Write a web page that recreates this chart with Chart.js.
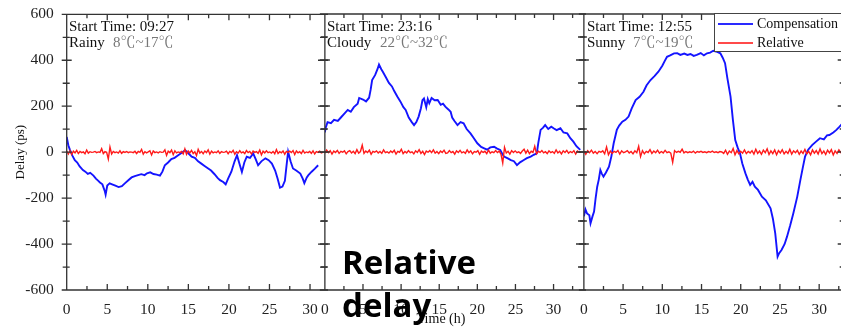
<!DOCTYPE html>
<html><head><meta charset="utf-8">
<script src="https://cdn.jsdelivr.net/npm/chart.js@4.4.1/dist/chart.umd.min.js"></script>
<style>
html,body{margin:0;padding:0;background:#fff;}
body{width:841px;height:328px;overflow:hidden;position:relative;font-family:'Liberation Serif','Noto Serif CJK SC','Noto Sans CJK SC',serif;}
canvas{position:absolute;top:0;}
.ann{position:absolute;font-size:15px;line-height:16px;color:#111;white-space:pre;}
.gray{color:#777;}
#legend{position:absolute;left:714px;top:13px;width:140px;height:39px;border:1.5px solid #444;background:#fff;box-sizing:border-box;}
.lg-line{position:absolute;left:3px;width:35px;height:2px;}
.lg-text{position:absolute;left:42px;font-size:14px;line-height:16px;color:#111;white-space:pre;}
#big{position:absolute;left:342px;top:240px;font-family:'Open Sans','Noto Sans',sans-serif;font-weight:700;font-size:33px;line-height:43px;color:#000;white-space:pre;z-index:5;}
#xtitle{position:absolute;left:411px;width:60px;text-align:center;top:311px;font-size:14px;line-height:16px;color:#111;}
</style></head><body>
<canvas id="c1" width="330" height="328" style="left:0px"></canvas>
<canvas id="c2" width="270" height="328" style="left:318px"></canvas>
<canvas id="c3" width="270" height="328" style="left:577px"></canvas>

<div class="ann" style="left:69px;top:17.6px">Start Time: 09:27</div>
<div class="ann" style="left:69px;top:33.6px">Rainy</div>
<div class="ann gray" style="left:113px;top:33.6px">8℃~17℃</div>
<div class="ann" style="left:327px;top:17.6px">Start Time: 23:16</div>
<div class="ann" style="left:327px;top:33.6px">Cloudy</div>
<div class="ann gray" style="left:380px;top:33.6px">22℃~32℃</div>
<div class="ann" style="left:587px;top:17.6px">Start Time: 12:55</div>
<div class="ann" style="left:587px;top:33.6px">Sunny</div>
<div class="ann gray" style="left:633px;top:33.6px">7℃~19℃</div>

<div id="legend">
  <div class="lg-line" style="top:9px;background:#2a2aff"></div>
  <div class="lg-text" style="top:2px">Compensation</div>
  <div class="lg-line" style="top:28px;background:#ff4a4a"></div>
  <div class="lg-text" style="top:21px">Relative</div>
</div>
<div id="xtitle">Time (h)</div>
<div id="big">Relative
delay</div>

<script>
// ---------- tick values ----------
const xLabelVals = [0, 5, 10, 15, 20, 25, 30];
const xTickMarks = [0, 2.5, 5, 7.5, 10, 12.5, 15, 17.5, 20, 22.5, 25, 27.5, 30, 32.5];
const yLabelVals = [-600, -400, -200, 0, 200, 400, 600];
const yTickMarks = [-600, -500, -400, -300, -200, -100, 0, 100, 200, 300, 400, 500, 600];

// ---------- panel 1 (Rainy) ----------
const p1CompT = [0,0.2,0.4,0.7,1.0,1.3,1.6,2.0,2.3,2.6,2.9,3.3,3.6,3.9,4.1,4.4,4.7,4.8,5.0,5.3,5.6,6.0,6.4,6.8,7.2,7.6,8.0,8.4,8.8,9.2,9.6,9.9,10.3,10.7,11.1,11.5,11.8,12.1,12.5,12.9,13.3,13.7,14.1,14.6,15.0,15.4,15.8,16.2,16.6,17.0,17.4,17.8,18.2,18.6,18.9,19.3,19.6,19.9,20.3,20.7,21.0,21.3,21.6,21.9,22.2,22.6,23.0,23.3,23.6,24.0,24.5,24.9,25.3,25.7,26.0,26.3,26.6,26.9,27.1,27.3,27.6,27.9,28.3,28.8,29.1,29.3,29.6,29.8,30.2,30.6,31.0];
const p1CompV = [66,30,10,-15,-35,-45,-62,-78,-85,-95,-90,-102,-115,-125,-132,-140,-170,-185,-145,-136,-140,-146,-152,-148,-135,-122,-110,-104,-100,-96,-100,-92,-88,-95,-98,-102,-85,-57,-45,-30,-25,-15,-5,8,-5,-20,-25,-40,-50,-60,-70,-80,-95,-112,-122,-130,-140,-115,-85,-40,-13,-50,-86,-45,-20,-25,-6,-30,-57,-40,-27,-35,-50,-80,-115,-155,-150,-125,-60,2,-40,-71,-80,-93,-115,-135,-110,-100,-85,-72,-57];
const p1Rel = [5,-8,6,-10,4,-3,8,-6,3,-2,1,-7,9,-4,2,-1,0,3,-2,1,-1,15,-6,2,-1,-30,22,-8,3,-2,1,-4,6,-5,2,-1,3,-2,1,0,-2,4,-6,3,-1,12,-9,2,-3,1,6,-12,5,-2,1,-3,2,-1,0,10,-14,4,-2,9,-11,6,-3,1,-2,3,-8,14,-10,5,-3,8,-6,2,-15,12,-4,3,-7,5,-2,10,-9,4,-3,1,-2,6,-5,2,-1,0,
  4,-7,3,-2,8,-9,2,-4,6,-3,1,-6,7,-2,3,-8,5,-1,2,-5,9,-12,4,-3,6,-2,1,-4,3,-7,11,-6,2,-3,5,-9,3,-1,4,-2,7,-10,5,-3,2,-6,8,-4,1,-2,3,-5,6,-8,2,-1,4,-3,0];

// ---------- panel 2 (Cloudy) ----------
const p2CompT = [0,0.1,0.35,0.8,1.2,1.7,2.1,2.5,3.0,3.4,3.8,4.3,4.5,5.0,5.4,5.8,6.0,6.2,6.6,6.9,7.1,7.4,7.6,8.0,8.4,8.8,9.1,9.5,9.9,10.3,10.6,11.0,11.4,11.7,12.0,12.3,12.6,12.8,13.0,13.3,13.5,13.7,14.0,14.4,14.8,15.2,15.5,15.8,16.2,16.5,16.7,17.0,17.4,17.8,18.2,18.6,19.1,19.5,20.0,20.5,20.9,21.3,21.7,22.2,22.6,23.0,23.3,23.5,24.0,24.4,24.8,25.2,25.6,26.1,26.5,27.0,27.4,27.8,28.0,28.3,28.6,28.9,29.3,29.7,30.0,30.4,30.9,31.3,31.8,32.2,32.6,33.0,33.5];
const p2CompV = [85,105,130,125,140,135,150,165,183,175,195,210,235,228,220,236,270,313,335,360,380,360,349,325,300,285,265,241,220,195,183,150,130,117,130,154,190,225,233,195,230,212,235,225,226,205,210,197,185,175,150,135,117,130,125,100,81,62,38,22,16,10,20,23,15,9,-10,-20,-28,-35,-40,-57,-45,-35,-27,-20,-12,-6,40,96,105,117,100,110,103,95,103,85,81,60,45,25,9];
const p2Rel = [-5,8,-3,6,-9,4,-2,7,-6,3,-1,5,-8,2,6,-4,3,-7,10,-5,2,30,-6,4,-2,8,-10,3,-1,5,-4,2,-6,9,-3,1,-5,4,-2,7,-9,3,-1,12,-7,2,-4,6,-3,1,-8,5,-2,10,-6,3,-11,4,-1,6,-3,9,-5,2,-7,4,-2,8,-6,-4,6,-3,2,-9,5,-2,7,-4,1,-6,
  9,-3,5,-8,2,-1,6,-10,4,-2,3,-7,8,-5,1,-3,6,-2,4,-9,-48,20,-4,3,-9,6,-2,5,-3,1,-6,4,12,-5,8,-7,3,-2,25,-8,3,-2,6,-4,1,-7,5,-3,2,-6,9,-4,3,-8,5,-2,7,-5,2,-3,6,-9,4,-1,0];

// ---------- panel 3 (Sunny) ----------
const p3CompT = [0,0.2,0.4,0.7,0.85,1.1,1.3,1.5,1.7,1.9,2.1,2.3,2.5,2.8,3.2,3.5,3.8,4.2,4.5,4.9,5.3,5.7,6.1,6.6,7.1,7.6,8.0,8.5,9.0,9.5,10.0,10.3,10.6,11.0,11.5,11.9,12.3,12.8,13.2,13.6,14.0,14.4,14.9,15.3,15.7,16.1,16.5,17.0,17.4,17.7,18.0,18.3,18.7,19.0,19.3,19.6,19.9,20.2,20.6,20.9,21.2,21.5,21.8,22.2,22.7,23.2,23.8,24.1,24.4,24.7,24.9,25.2,25.6,25.9,26.3,26.7,27.2,27.6,27.9,28.2,28.6,29.1,29.6,30.1,30.6,31.0,31.3,31.8,32.2,32.6,33.0];
const p3CompV = [-280,-250,-267,-275,-310,-280,-259,-200,-151,-120,-78,-95,-107,-90,-64,-20,38,96,115,132,140,154,190,226,240,262,290,313,330,349,375,395,414,420,429,430,422,428,422,426,418,422,430,420,429,432,440,435,429,410,386,320,241,140,52,20,-6,-50,-93,-120,-143,-130,-151,-165,-194,-210,-245,-290,-354,-455,-440,-426,-400,-368,-320,-267,-195,-122,-70,-20,10,30,45,60,55,72,74,85,96,110,125];
const p3Rel = [4,-10,6,-3,8,-5,2,-7,3,-1,5,-8,22,-12,4,-6,3,-2,7,-9,5,-3,1,6,-4,2,-8,5,-3,25,-20,6,-8,3,-2,10,-6,4,-3,8,-5,2,-4,7,-3,1,-5,-45,6,-2,3,-1,12,-4,2,-3,1,-2,4,-5,2,-1,3,-2,1,-3,2,-1,4,-2,1,-3,2,0,-6,8,
  -10,4,-3,15,-12,6,-8,3,-5,9,-7,2,-4,6,-9,12,-6,4,-10,8,-3,14,-11,5,-7,9,-12,6,-4,10,-8,3,-6,12,-9,5,-3,7,-10,4,-6,11,-8,3,-12,9,-5,6,-9,13,-7,4,-11,8,-4,10,-13,5,-6,9,-3,0];

const SERIF = "'Liberation Serif', serif";

const frame = {
  id: 'frame',
  afterDatasetsDraw(chart, args, opts) {
    const {ctx, chartArea: a, scales: {x, y}} = chart;
    ctx.save();
    ctx.strokeStyle = '#333';
    ctx.lineWidth = 1.3;
    ctx.beginPath();
    ctx.moveTo(a.left, a.bottom); ctx.lineTo(a.left, a.top);
    ctx.moveTo(a.left, a.top); ctx.lineTo(a.right, a.top);
    ctx.moveTo(a.left, a.bottom); ctx.lineTo(a.right, a.bottom);
    if (opts.rightLine) { ctx.moveTo(a.right, a.top); ctx.lineTo(a.right, a.bottom); }
    xTickMarks.forEach(v => {
      const px = x.getPixelForValue(v);
      if (px < a.left - 0.5 || px > a.right + 0.5) return;
      const L = v % 5 === 0 ? 6 : 4;
      ctx.moveTo(px, a.bottom); ctx.lineTo(px, a.bottom - L);
      ctx.moveTo(px, a.top); ctx.lineTo(px, a.top + L);
    });
    yTickMarks.forEach(v => {
      const py = y.getPixelForValue(v);
      const major = v % 200 === 0;
      const o = major ? 5 : 4, i = major ? 5 : 3;
      ctx.moveTo(a.left - o, py); ctx.lineTo(a.left + i, py);
      ctx.moveTo(a.right - i, py); ctx.lineTo(a.right + o, py);
    });
    ctx.stroke();
    ctx.restore();
  }
};

function pts(t, v) { return t.map((tt, i) => ({x: tt, y: v[i]})); }
function relPts(v, span) { return v.map((vv, i) => ({x: i * span / (v.length - 1), y: vv})); }

function makePanel(id, compT, compV, rel, xMax, padL, padR, showY, rightLine) {
  return new Chart(document.getElementById(id), {
    type: 'line',
    data: {
      datasets: [
        {label: 'Relative', data: relPts(rel, xMax), borderColor: '#ff1a1a', borderWidth: 1.4, pointRadius: 0, tension: 0},
        {label: 'Compensation', data: pts(compT, compV), borderColor: '#1414ff', borderWidth: 1.9, pointRadius: 0, tension: 0}
      ]
    },
    options: {
      responsive: false,
      animation: false,
      events: [],
      layout: {padding: {left: padL, right: padR, top: 14, bottom: 0}},
      plugins: {legend: {display: false}, tooltip: {enabled: false}, frame: {rightLine: rightLine}},
      scales: {
        x: {
          type: 'linear', min: 0, max: xMax,
          afterBuildTicks: s => { s.ticks = xLabelVals.map(v => ({value: v})); },
          afterFit: s => { s.height = 38; },
          grid: {display: false}, border: {display: false},
          ticks: {font: {family: SERIF, size: 15.5}, color: '#222', padding: 3, maxRotation: 0, autoSkip: false}
        },
        y: {
          type: 'linear', min: -600, max: 600, display: showY,
          afterBuildTicks: s => { s.ticks = yLabelVals.map(v => ({value: v})); },
          afterFit: s => { s.width = showY ? 66.7 : 0; },
          grid: {display: false}, border: {display: false},
          ticks: {font: {family: SERIF, size: 15.5}, color: '#222', padding: 5, autoSkip: false},
          title: {display: showY, text: 'Delay (ps)', font: {family: SERIF, size: 13}, color: '#111', padding: {top: 13, bottom: 0}}
        }
      }
    },
    plugins: [frame]
  });
}

makePanel('c1', p1CompT, p1CompV, p1Rel, 31.6, 0, 7, true, false);
makePanel('c2', p2CompT, p2CompV, p2Rel, 33.6, 6, 7, false, false);
makePanel('c3', p3CompT, p3CompV, p3Rel, 33.0, 6.3, 4.3, false, true);
</script>
</body></html>
